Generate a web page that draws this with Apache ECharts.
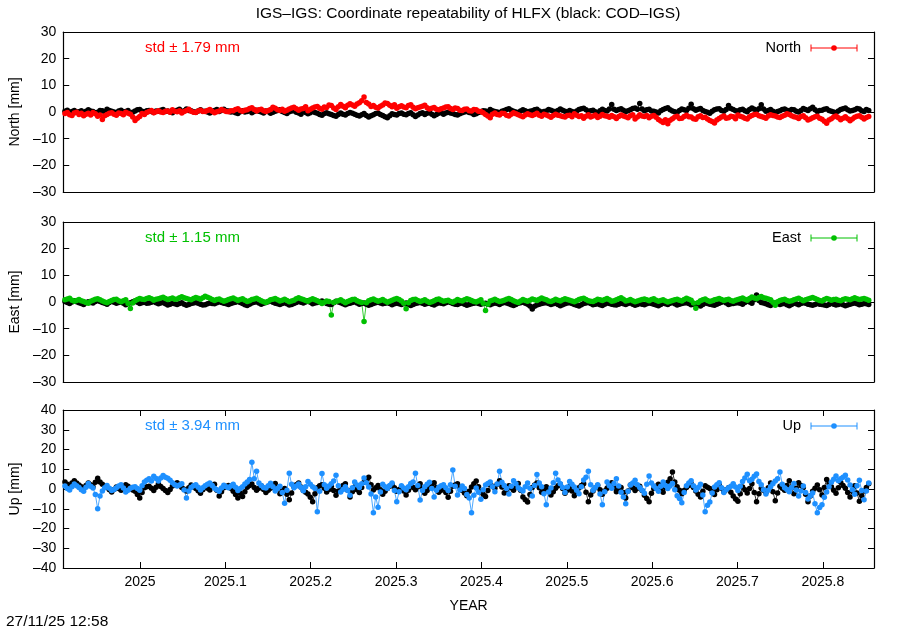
<!DOCTYPE html>
<html>
<head>
<meta charset="utf-8">
<script src="https://cdn.jsdelivr.net/npm/echarts@6/dist/echarts.min.js"></script>
<style>
html,body{margin:0;padding:0;background:#fff;}
#c{width:900px;height:630px;}
</style>
</head>
<body>
<div id="c"></div>
<script>
// ---- data (mm), one value per day starting at startYear ----
var startYear = 2024.912;
var stepYears = 1 / 365.25;
var xMin = 2024.91, xMax = 2025.86;
var xTickValues = [2025, 2025.1, 2025.2, 2025.3, 2025.4, 2025.5, 2025.6, 2025.7, 2025.8];

var northIGS = [-0.6,-0.2,-1.0,-1.3,-0.4,-0.1,-0.9,-0.5,-1.4,-0.8,-0.5,-1.1,-0.2,-0.7,-1.6,-1.1,-2.8,-1.4,-0.9,-0.5,-0.3,-0.8,-1.2,-0.4,-0.6,-1.0,-0.1,-0.5,-0.8,-1.9,-3.2,-2.3,-1.7,-0.6,-0.9,-0.2,
0.2,0.6,-0.3,0.1,0.5,0.0,-0.2,0.3,0.4,-0.1,0.8,0.3,0.1,0.5,-0.4,0.2,0.6,1.0,0.3,-0.1,-0.2,0.4,0.7,0.2,0.2,0.6,0.9,0.3,-0.3,0.1,0.4,0.9,0.6,0.2,0.1,0.5,
0.5,0.9,1.2,0.6,0.3,0.7,0.8,1.3,1.6,0.9,0.4,0.8,1.0,0.5,0.2,0.6,0.9,1.8,1.4,0.8,0.6,1.0,0.3,0.7,1.1,1.5,1.8,1.2,0.7,1.1,1.3,2.0,0.5,1.0,1.5,1.9,
2.1,1.4,1.0,1.9,1.7,2.6,2.4,1.5,0.9,2.0,2.8,2.2,1.6,2.5,3.1,2.6,2.2,3.0,3.5,4.2,5.6,3.6,3.0,2.1,2.4,1.8,1.5,2.2,2.6,3.4,3.2,2.5,2.0,2.7,1.4,2.0,
2.3,1.9,1.6,2.4,2.7,1.8,1.2,1.6,1.9,2.2,2.5,1.6,1.1,1.4,1.7,1.0,0.8,1.2,1.5,1.9,2.0,1.3,0.9,1.5,1.3,0.7,0.6,1.0,1.1,0.5,0.4,0.9,0.8,0.3,0.2,-0.3,
-0.9,-1.5,-2.2,-0.8,-0.4,-0.9,-1.1,-0.5,-0.6,-1.2,-1.5,-0.8,-0.3,-0.7,-1.0,-1.4,-1.8,-1.1,-0.7,-1.0,-1.3,-0.9,-0.5,-1.2,-1.6,-0.8,-1.1,-1.5,-2.0,-1.3,-0.8,-1.2,-1.4,-1.7,-1.9,-1.3,
-1.2,-1.8,-0.7,-1.2,-1.7,-1.4,-2.3,-1.6,-1.0,-1.9,-1.5,-1.1,-2.1,-1.6,-0.9,-1.4,-1.6,-2.0,-1.3,-1.8,-2.4,-1.7,-1.1,-1.5,-1.8,-2.2,-1.4,-1.0,-2.6,-1.9,-1.0,-1.5,-1.7,-1.3,-2.2,-1.6,
-1.3,-2.0,-2.8,-3.4,-3.9,-2.9,-4.4,-3.1,-2.5,-1.9,-1.6,-2.4,-2.3,-1.7,-1.2,-1.8,-1.9,-2.5,-2.7,-1.8,-1.4,-2.1,-2.0,-2.6,-3.2,-3.6,-4.1,-3.0,-2.4,-1.9,-1.5,-2.3,-2.2,-1.6,-1.8,-2.5,
-1.1,-1.6,-1.9,-2.3,-2.6,-1.8,-1.3,-0.9,-0.8,-1.4,-1.7,-2.0,-2.3,-1.5,-1.0,-1.3,-1.5,-1.9,-2.1,-1.6,-1.2,-0.7,-0.9,-1.4,-1.8,-2.0,-2.4,-1.7,-1.4,-2.2,-3.0,-2.6,-2.2,-1.8,-1.6,-2.3,
-2.7,-3.5,-4.2,-3.0,-2.5,-1.9,-1.5,-2.2,-2.9,-2.3,-1.8,-2.5,-3.3,-2.6,-2.0,-1.6,-1.4,-2.0,-2.6,-2.1,-1.7];

var northCOD = [0.3,0.7,-0.2,0.2,0.6,0.0,0.1,0.5,-0.4,0.3,0.8,0.4,0.2,-0.3,-0.1,0.6,0.5,0.1,1.0,0.6,0.3,0.0,-0.3,0.4,0.7,0.1,0.2,0.6,-0.5,-0.1,0.4,0.8,0.9,0.3,0.1,0.5,
0.6,0.2,-0.2,0.4,0.3,0.7,0.9,0.2,0.4,0.0,-0.3,0.3,0.7,1.0,0.1,0.5,1.1,0.6,0.5,0.1,-0.1,0.4,0.8,0.3,0.3,0.0,-0.4,0.2,0.6,0.9,0.2,0.6,1.0,0.5,0.4,0.0,
0.1,-0.3,-0.6,0.1,0.5,0.0,0.2,0.6,-0.3,0.2,0.7,0.3,0.0,-0.4,0.4,0.1,-0.5,-0.1,0.3,0.6,0.8,0.2,-0.2,-0.6,0.1,0.4,0.5,-0.1,-0.4,-0.8,0.2,-0.2,-0.7,-0.3,0.3,-0.2,
-0.5,-0.9,-1.2,-0.6,-0.3,-0.7,-0.9,-1.3,-1.6,-0.9,-0.4,-0.8,-1.1,-0.6,-0.2,-0.5,-0.8,-1.2,-1.5,-1.0,-0.6,-1.3,-1.9,-1.4,-1.0,-0.6,-0.4,-0.9,-1.3,-1.8,-2.2,-1.4,-0.7,-0.9,-1.1,-0.6,
-0.4,-0.8,-1.0,-0.6,-0.3,-1.0,-1.7,-1.1,-0.6,-0.3,-0.9,-0.5,-0.2,-0.8,-1.4,-0.9,-0.5,-0.2,-0.8,-0.4,-0.1,-0.4,-0.6,-0.9,-1.1,-0.7,-0.3,0.0,0.2,-0.2,-0.4,-0.9,-0.7,-0.2,0.1,0.5,
0.4,0.1,0.9,0.5,0.2,0.0,-0.3,0.3,0.6,0.9,1.2,0.7,0.3,0.0,-0.2,0.4,0.8,0.5,0.1,0.3,0.5,0.8,1.0,0.4,-0.1,0.2,0.4,0.9,0.7,0.3,0.2,0.6,1.1,0.7,0.3,0.0,
0.6,0.2,-0.2,0.4,0.9,1.2,1.4,0.8,0.3,0.5,0.7,0.1,-0.3,0.5,1.0,0.6,0.4,1.1,2.8,1.0,0.6,0.9,1.2,0.7,0.2,0.5,0.8,1.3,1.5,1.0,3.2,1.1,0.5,0.8,1.0,0.4,
0.3,0.0,-0.4,0.5,0.9,1.3,1.6,0.8,0.4,0.1,-0.2,0.6,1.1,0.8,0.6,1.4,2.9,1.2,0.7,1.0,1.3,0.6,0.2,-0.1,-0.5,0.3,0.8,1.1,1.2,0.6,0.3,0.9,2.4,1.3,0.9,0.5,
0.4,0.8,1.0,0.5,0.1,0.9,1.5,1.0,0.6,1.2,2.7,1.1,0.3,0.6,0.9,0.3,-0.2,0.2,0.5,0.9,1.1,0.7,0.4,0.9,0.8,0.3,0.0,0.6,1.3,0.9,0.6,1.2,1.8,0.8,0.2,0.6,
0.7,1.0,1.2,0.6,0.3,0.0,-0.3,0.4,0.9,1.2,1.5,0.8,0.4,0.6,0.8,1.3,1.1,0.5,0.2,0.9,0.6];

var eastIGS = [0.8,1.1,1.4,0.7,0.3,0.6,0.9,0.5,0.2,-0.2,-0.5,0.3,0.7,1.0,1.2,0.8,0.4,0.0,-0.3,0.2,0.6,0.9,1.0,0.5,0.1,0.5,0.8,-0.6,-2.4,-0.4,0.5,0.9,1.3,1.0,0.9,1.3,
1.6,1.2,0.7,1.0,1.2,1.5,1.8,1.3,0.9,1.2,1.5,1.0,1.1,1.6,2.0,1.6,1.3,1.0,0.8,1.3,1.7,1.4,1.0,1.6,2.2,1.8,1.4,0.9,0.6,0.9,1.1,0.7,0.3,0.6,0.9,1.2,
1.5,1.0,0.6,0.9,1.2,0.7,0.2,0.5,0.9,1.1,1.4,0.9,0.5,0.1,-0.2,0.3,0.8,1.0,1.3,0.8,0.4,0.7,1.0,0.6,0.1,0.4,0.7,1.2,1.6,1.2,0.9,0.6,0.3,0.8,1.2,0.8,
0.5,0.0,-0.6,-0.1,0.4,0.2,-4.9,-0.2,0.2,0.5,0.8,0.3,-0.3,0.2,0.6,0.9,1.0,0.5,0.1,-0.2,-7.3,-0.3,0.5,0.8,1.1,0.7,0.3,0.6,0.9,0.4,-0.1,0.3,0.7,1.0,1.3,0.9,
0.4,-0.5,-2.5,-0.3,0.6,0.9,1.0,0.6,0.2,0.5,0.8,0.3,-0.2,0.1,0.5,0.9,1.1,0.7,0.3,0.5,0.7,0.2,-0.1,0.4,0.9,0.6,0.4,0.8,1.2,0.9,0.6,0.2,0.0,0.4,0.8,-0.5,
-3.2,-0.8,0.4,0.7,1.0,0.6,0.2,0.4,0.7,1.0,1.3,0.9,0.5,0.1,-0.2,0.4,0.9,0.6,0.3,0.7,1.1,0.8,0.6,1.0,1.5,1.1,0.8,0.4,0.2,0.6,1.0,0.7,0.4,0.8,1.2,0.9,
0.7,0.4,0.1,0.5,0.9,1.2,1.4,0.9,0.5,0.3,0.2,0.6,1.0,0.8,0.6,0.9,1.3,0.8,0.3,0.5,0.8,1.2,1.6,1.0,0.4,0.6,0.9,0.5,0.1,0.4,0.7,0.9,1.1,0.8,0.5,0.9,
1.2,0.7,0.3,0.6,0.8,0.4,0.0,0.3,0.6,0.8,1.0,0.7,0.4,0.9,1.4,1.0,0.7,-0.4,-2.3,-0.2,0.5,0.8,1.1,0.6,0.2,0.5,0.8,1.0,1.3,0.9,0.6,0.8,1.0,0.6,0.3,0.7,
0.9,1.2,1.5,1.0,0.7,1.3,1.9,1.5,1.2,1.7,2.1,1.6,1.4,1.1,0.8,-0.1,-1.2,0.1,0.6,0.8,1.0,0.6,0.3,0.5,0.8,1.1,1.4,0.9,0.5,0.8,1.1,1.4,1.7,1.3,0.9,0.6,
0.4,0.9,1.3,1.0,0.7,0.9,1.0,0.7,0.5,0.9,1.2,1.0,0.8,1.2,1.6,1.2,0.9,1.1,1.3,1.0,0.7];

var eastCOD = [0.2,-0.2,-0.6,0.0,0.5,0.1,-0.3,-0.6,-0.9,-0.3,0.1,-0.2,-0.4,0.2,0.6,0.2,-0.2,-0.5,-0.8,-0.2,0.3,-0.1,-0.5,-0.2,0.0,-0.5,-1.0,-0.6,-0.3,0.1,0.4,-0.1,-0.6,-0.3,-0.1,-0.5,
-0.4,-0.1,0.2,-0.3,-0.7,-0.4,-0.2,-0.7,-1.1,-0.8,-0.5,-0.7,-0.9,-0.6,-0.3,-0.8,-1.2,-0.9,-0.6,-0.4,-0.2,-0.5,-0.8,-1.1,-1.0,-0.7,-0.4,-0.6,-0.7,-0.3,0.1,-0.2,-0.5,-0.7,-0.9,-0.6,
-0.3,-0.1,0.2,-0.2,-0.6,-1.0,-1.3,-0.8,-0.4,-0.1,0.1,-0.4,-0.8,-0.5,-0.2,0.1,0.4,-0.1,-0.5,-0.7,-0.9,-0.6,-0.3,-0.7,-1.1,-0.9,-0.6,-0.2,0.2,-0.1,-0.4,0.0,0.5,-0.1,-0.7,-0.4,
-0.2,0.1,0.4,-0.1,-0.6,-0.8,-0.9,-0.3,0.3,0.0,-0.3,-0.7,-1.0,-0.7,-0.5,-0.2,0.1,-0.4,-0.8,-0.6,-0.4,-0.8,-1.2,-0.9,-0.6,-0.3,0.0,-0.4,-0.7,-0.5,-0.3,-0.6,-1.0,-0.7,-0.5,-0.7,
-0.9,-0.6,-0.4,-0.9,-1.3,-0.9,-0.6,-0.4,-0.2,-0.5,-0.8,-0.6,-0.5,-0.8,-1.1,-0.7,-0.3,-0.5,-0.7,-0.3,0.1,-0.2,-0.6,-0.8,-0.9,-0.6,-0.4,-0.8,-1.2,-0.9,-0.7,-0.5,-0.3,-0.6,-0.8,-0.6,
-0.5,-0.8,-1.0,-0.7,-0.4,-0.6,-0.9,-0.5,-0.2,-0.4,-0.7,-1.0,-1.3,-0.9,-0.5,-0.3,-0.1,-0.5,-0.8,-1.5,-2.6,-1.6,-1.1,-0.8,-0.6,-0.4,-0.3,-0.6,-0.9,-0.7,-0.5,-0.9,-1.4,-1.0,-0.7,-0.4,
-0.3,-0.6,-0.9,-1.2,-1.5,-1.0,-0.6,-0.4,-0.2,-0.6,-1.0,-0.8,-0.7,-1.0,-1.3,-0.8,-0.4,-0.6,-0.8,-1.0,-1.1,-0.8,-0.5,-0.7,-0.9,-0.6,-0.3,-0.8,-1.2,-0.9,-0.6,-0.8,-1.0,-0.7,-0.4,-0.6,
-0.8,-1.1,-1.4,-0.9,-0.5,-0.7,-0.9,-0.5,-0.2,-0.7,-1.1,-0.8,-0.6,-0.4,-0.3,-0.6,-1.0,-0.8,-0.7,-1.1,-1.5,-0.9,-0.4,-0.6,-0.8,-1.0,-1.2,-0.8,-0.5,-0.1,0.2,-0.4,-0.9,-0.7,-0.6,-0.4,
-0.3,-0.5,-0.8,-0.2,0.4,0.0,-0.5,0.8,2.6,0.6,-0.2,-0.4,-0.7,-1.0,-1.3,-0.8,-0.4,-0.6,-0.9,-0.7,-0.6,-1.0,-1.4,-0.9,-0.5,-0.7,-1.0,-0.6,-0.3,-0.5,-0.8,-1.0,-1.2,-0.9,-0.6,-0.8,
-0.9,-1.1,-1.3,-0.9,-0.5,-0.8,-1.1,-0.9,-0.7,-1.0,-1.4,-1.1,-0.8,-0.6,-0.4,-0.7,-1.0,-0.8,-0.6,-0.7,-0.9];

var upIGS = [1.5,0.2,-0.5,1.2,2.5,1.6,0.8,-0.4,-1.2,0.9,2.8,1.4,0.5,-2.8,-10.0,-3.5,-1.0,0.6,1.8,0.4,-0.8,-0.2,0.6,1.5,2.2,0.5,-1.5,-0.6,0.4,0.9,1.2,0.2,-0.6,1.6,3.5,4.4,
5.2,4.1,6.5,5.3,4.0,5.6,6.8,6.0,5.5,4.4,3.2,2.2,1.5,2.0,2.6,-0.5,-4.5,-1.0,0.8,1.6,2.2,0.9,-0.5,0.6,1.6,2.4,3.0,1.8,0.4,-0.4,-1.2,0.5,1.9,1.2,0.6,1.5,
2.4,0.9,-0.8,0.3,1.2,2.5,3.6,4.8,13.5,5.2,9.0,3.0,1.8,0.7,0.5,1.6,2.9,1.1,-1.0,0.2,1.4,-1.8,-7.2,-0.6,8.0,2.4,0.6,1.5,2.5,0.8,-0.9,1.2,3.8,2.4,1.1,0.3,
-11.5,-1.2,7.8,2.2,0.4,1.5,2.6,4.0,7.0,1.6,-1.5,-0.3,1.2,-0.8,-3.2,0.6,3.5,2.0,0.8,2.6,5.6,3.2,1.0,-2.5,-12.0,-4.0,-9.2,-1.5,2.4,1.2,0.3,1.8,3.1,-0.8,-6.5,-1.4,
1.6,0.5,-0.4,1.2,2.8,3.5,8.0,1.8,-5.6,-0.8,1.2,2.4,3.4,0.2,-4.0,-0.6,0.9,1.6,2.2,0.6,-0.8,2.2,9.6,1.4,-3.0,-0.5,1.5,0.3,-2.8,-4.5,-12.0,-3.2,0.5,-1.6,-5.2,-0.4,
2.0,2.8,3.6,1.2,-1.4,2.5,9.0,3.4,1.8,0.2,-2.5,1.4,4.2,2.6,0.6,-0.2,-1.0,1.2,3.0,0.4,-3.5,1.8,7.4,3.0,1.2,-2.4,-8.0,-1.5,0.5,3.2,8.0,4.6,2.6,0.8,-1.8,1.0,
3.8,2.4,1.0,-0.6,-2.4,1.2,4.6,6.0,9.0,2.2,-0.6,0.8,2.2,-2.5,-8.0,-1.4,3.5,1.6,0.4,2.8,5.2,1.5,-1.6,-4.0,-7.5,-1.2,2.0,3.0,4.4,2.2,0.8,-0.6,-2.2,2.4,6.6,3.0,
1.5,0.2,-1.2,1.4,3.6,1.8,0.2,1.5,2.8,-0.4,-3.4,-4.8,-7.0,-1.8,1.6,3.0,4.2,1.6,-0.5,0.8,2.4,-3.0,-11.5,-8.2,-6.6,-2.0,1.0,2.2,3.2,0.6,-1.8,-0.4,0.6,1.4,2.6,1.0,
-0.8,1.4,3.8,5.6,7.5,4.2,5.0,6.4,7.6,3.8,2.2,-0.4,-2.5,-0.6,1.2,2.6,4.0,5.2,8.6,2.4,0.6,-0.2,-1.4,0.8,2.8,-0.5,-3.6,-1.0,1.5,-1.8,-5.0,-3.4,-2.0,-7.5,-12.0,-9.4,
-8.0,-4.2,-1.5,1.2,3.4,5.0,6.6,4.2,5.2,6.0,7.0,4.5,2.0,-0.4,-2.6,1.6,4.4,-0.8,-5.5,-1.0,3.0];

var upCOD = [3.5,2.4,1.8,3.0,4.2,3.1,2.0,1.2,0.5,1.8,3.0,2.1,1.2,3.4,5.5,3.6,2.4,1.5,0.8,-0.4,-1.5,-0.2,1.0,0.3,-0.6,0.8,2.2,1.4,0.4,-0.5,-1.2,-2.8,-4.6,-1.8,0.6,1.2,
1.4,0.4,-0.8,0.9,2.6,1.3,0.2,-0.8,-1.8,-0.2,1.5,2.4,3.2,1.9,0.8,-0.1,-1.0,0.6,2.0,1.2,0.3,-0.9,-2.2,-0.4,1.2,0.4,-0.5,1.0,2.4,-0.6,-3.5,-1.4,0.6,1.3,1.8,0.4,
-1.2,-2.8,-4.5,-2.2,-3.8,-1.4,0.9,1.8,2.5,0.8,-0.6,0.4,1.6,-0.2,-1.8,-0.6,0.4,1.6,2.8,0.2,-2.4,-1.0,0.2,-2.6,-5.4,-2.0,1.2,2.2,3.0,1.0,-0.8,-1.6,-2.5,-4.2,-6.4,-2.4,
0.6,1.6,2.2,0.4,-1.5,-0.2,1.4,-0.8,-3.2,-1.0,0.8,1.8,2.6,-0.6,-4.0,-1.4,1.0,-0.4,-1.8,0.8,3.4,4.8,6.0,2.2,-0.5,0.6,1.8,-0.4,-2.6,-1.2,0.2,1.4,2.4,0.6,-1.2,-0.2,
0.6,-1.0,-3.0,-0.6,1.8,0.7,-0.4,1.2,2.6,0.2,-2.2,-0.8,0.8,2.0,3.2,0.8,-1.6,-0.6,0.4,-1.8,-4.2,-1.2,1.4,2.0,2.6,0.9,-0.8,-2.0,-3.4,-1.2,1.0,2.6,4.0,1.2,-1.4,-2.6,
-3.8,-0.8,2.2,1.4,0.4,2.4,4.2,1.0,-2.0,-0.4,1.6,0.6,-0.6,1.2,2.8,-0.6,-4.0,-5.4,-6.6,-2.8,0.8,2.0,3.0,0.6,-1.6,-0.2,1.2,-0.8,-3.0,-1.4,0.4,1.6,2.4,0.2,-2.2,-0.6,
1.2,-1.0,-3.4,-1.2,0.6,1.8,2.6,-1.6,-6.5,-3.0,-1.0,0.6,1.8,-0.4,-2.6,-1.0,0.4,2.0,3.2,0.8,-1.4,-0.2,0.8,-1.8,-4.6,-1.0,2.0,0.6,-0.8,0.4,1.4,-0.8,-3.2,-4.8,-6.4,-2.2,
0.2,1.4,2.4,0.4,-1.6,0.8,3.4,5.2,8.6,3.6,1.2,-0.6,-2.4,-0.8,0.8,1.8,2.8,0.8,-1.0,-2.6,-4.0,-1.2,1.6,0.9,0.2,-1.4,-2.8,-0.4,2.2,0.4,-1.4,-0.4,0.6,-1.6,-3.6,-5.0,
-6.2,-2.4,1.0,-0.4,-2.0,0.2,2.6,-1.8,-6.5,-2.4,0.4,-0.6,-1.8,0.6,3.0,-1.4,-6.0,-2.0,1.4,0.4,-0.6,1.8,4.2,0.8,-2.4,0.4,3.2,1.8,0.8,-2.6,-6.4,-3.6,-1.2,0.4,2.0,-0.4,
-3.0,0.8,4.8,2.8,1.2,-0.6,-2.2,0.6,3.4,1.8,0.4,-1.8,-4.0,-1.2,1.6,-2.0,-6.2,-3.4,-1.0,0.8,2.6];

var panelNames = ['North [mm]', 'East [mm]', 'Up [mm]'];
var legendNames = ['North', 'East', 'Up'];
var stdTexts = ['std \u00b1 1.79 mm', 'std \u00b1 1.15 mm', 'std \u00b1 3.94 mm'];
var yLimits = [[-30, 30], [-30, 30], [-40, 40]];
var colors = ['#ff0000', '#00c000', '#1e90ff'];

// ---- build ----
function toXY(arr) {
  return arr.map(function (v, i) { return [startYear + i * stepYears, v]; });
}
var FONT = 'Liberation Sans, Arial, Helvetica, sans-serif';
var grids = [
  {left: 63, top: 32, width: 811, height: 160},
  {left: 63, top: 222, width: 811, height: 160},
  {left: 63, top: 410, width: 811, height: 158}
];
var dash = function (v) { return String(v).replace('-', '\u2013'); };
var frameLine = {show: true, onZero: false, lineStyle: {color: '#000', width: 1.2}};

var xAxes = [], yAxes = [], series = [], graphics = [];
var pairs = [[northCOD, northIGS], [eastCOD, eastIGS], [upCOD, upIGS]];

grids.forEach(function (g, k) {
  var bottom = k === 2;
  xAxes.push({
    type: 'value', gridIndex: k, min: xMin, max: xMax, position: 'bottom',
    axisLine: frameLine,
    axisTick: {show: bottom, inside: true, length: 6, customValues: xTickValues, lineStyle: {color: '#000'}},
    axisLabel: {show: bottom, customValues: xTickValues, margin: 7, color: '#000', fontSize: 14, fontFamily: FONT,
      formatter: function (v) { return String(Math.round(v * 10) / 10); }},
    splitLine: {show: false},
    name: bottom ? 'YEAR' : '', nameLocation: 'middle', nameGap: 31,
    nameTextStyle: {color: '#000', fontSize: 14, fontFamily: FONT}
  });
  xAxes.push({
    type: 'value', gridIndex: k, min: xMin, max: xMax, position: 'top',
    axisLine: frameLine,
    axisTick: {show: bottom, inside: true, length: 6, customValues: xTickValues, lineStyle: {color: '#000'}},
    axisLabel: {show: false}, splitLine: {show: false}
  });
  var lim = yLimits[k];
  yAxes.push({
    type: 'value', gridIndex: k, min: lim[0], max: lim[1], interval: 10, position: 'left',
    axisLine: frameLine,
    axisTick: {show: true, inside: true, length: 6, lineStyle: {color: '#000'}},
    axisLabel: {color: '#000', fontSize: 14, fontFamily: FONT, margin: 7, formatter: dash},
    splitLine: {show: false},
    name: panelNames[k], nameLocation: 'middle', nameGap: 40, nameRotate: 90,
    nameTextStyle: {color: '#000', fontSize: 14, fontFamily: FONT}
  });
  yAxes.push({
    type: 'value', gridIndex: k, min: lim[0], max: lim[1], interval: 10, position: 'right',
    axisLine: frameLine,
    axisTick: {show: true, inside: true, length: 6, lineStyle: {color: '#000'}},
    axisLabel: {show: false}, splitLine: {show: false}
  });

  var p = pairs[k];
  series.push({
    type: 'line', xAxisIndex: 2 * k, yAxisIndex: 2 * k, data: toXY(p[0]),
    symbol: 'circle', symbolSize: 5.5, showSymbol: true, animation: false,
    lineStyle: {color: '#000', width: 0.8}, itemStyle: {color: '#000'}
  });
  series.push({
    type: 'line', xAxisIndex: 2 * k, yAxisIndex: 2 * k, data: toXY(p[1]),
    symbol: 'circle', symbolSize: 5.5, showSymbol: true, animation: false,
    lineStyle: {color: colors[k], width: 0.8}, itemStyle: {color: colors[k]}
  });

  var ty = g.top + 16;
  graphics.push({type: 'text', x: 145, y: ty,
    style: {text: stdTexts[k], fill: colors[k], font: '15px ' + FONT, textVerticalAlign: 'middle'}});
  graphics.push({type: 'text', x: 801, y: ty,
    style: {text: legendNames[k], fill: '#000', font: '14.5px ' + FONT, textAlign: 'right', textVerticalAlign: 'middle'}});
  graphics.push({type: 'line', shape: {x1: 811, y1: ty, x2: 857, y2: ty}, style: {stroke: colors[k], lineWidth: 1}});
  graphics.push({type: 'line', shape: {x1: 811, y1: ty - 3.5, x2: 811, y2: ty + 3.5}, style: {stroke: colors[k], lineWidth: 1}});
  graphics.push({type: 'line', shape: {x1: 857, y1: ty - 3.5, x2: 857, y2: ty + 3.5}, style: {stroke: colors[k], lineWidth: 1}});
  graphics.push({type: 'circle', shape: {cx: 834, cy: ty, r: 2.8}, style: {fill: colors[k]}});
});

graphics.push({type: 'text', x: 6, y: 622,
  style: {text: '27/11/25 12:58', fill: '#000', font: '15.5px ' + FONT, textVerticalAlign: 'middle'}});

var chart = echarts.init(document.getElementById('c'), null, {renderer: 'canvas'});
chart.setOption({
  backgroundColor: '#fff',
  animation: false,
  title: {text: 'IGS\u2013IGS: Coordinate repeatability of HLFX (black: COD\u2013IGS)', left: 463, top: 1, textAlign: 'center',
    textStyle: {color: '#000', fontSize: 15.5, fontWeight: 'normal', fontFamily: FONT}},
  grid: grids.map(function (g) { return Object.assign({containLabel: false, show: false}, g); }),
  xAxis: xAxes, yAxis: yAxes, series: series, graphic: graphics
});
</script>
</body>
</html>
